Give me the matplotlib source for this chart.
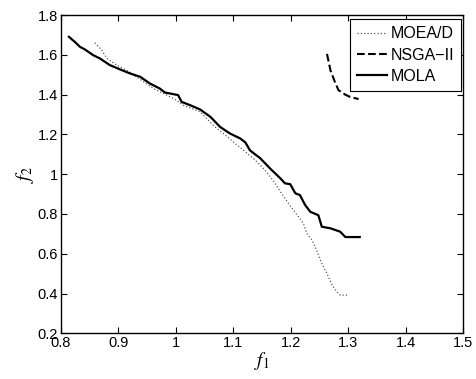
import matplotlib
matplotlib.use("Agg")
import matplotlib.pyplot as plt
from matplotlib.ticker import FuncFormatter

plt.rcParams['font.family'] = ['Liberation Sans', 'DejaVu Sans']
plt.rcParams['mathtext.fontset'] = 'stix'

# data
moead_f1 = [0.859, 0.871, 0.880, 0.897, 0.920, 0.961, 0.996, 1.013, 1.042, 1.068,
            1.086, 1.103, 1.121, 1.138, 1.155, 1.169, 1.182, 1.196, 1.211, 1.222,
            1.228, 1.237, 1.245, 1.254, 1.263, 1.272, 1.280, 1.286, 1.300]
moead_f2 = [1.661, 1.624, 1.582, 1.549, 1.513, 1.431, 1.381, 1.347, 1.314, 1.238,
            1.197, 1.155, 1.113, 1.071, 1.021, 0.970, 0.912, 0.853, 0.795, 0.753,
            0.702, 0.669, 0.618, 0.552, 0.501, 0.442, 0.409, 0.392, 0.392]

nsga_f1 = [1.263, 1.266, 1.269, 1.276, 1.283, 1.295, 1.303, 1.318]
nsga_f2 = [1.605, 1.565, 1.523, 1.470, 1.423, 1.400, 1.389, 1.378]

mola_f1 = [0.814, 0.824, 0.833, 0.842, 0.856, 0.868, 0.885, 0.903, 0.920, 0.938,
           0.955, 0.972, 0.981, 0.990, 1.004, 1.010, 1.025, 1.042, 1.060, 1.077,
           1.094, 1.112, 1.121, 1.129, 1.147, 1.164, 1.182, 1.190, 1.199, 1.208,
           1.216, 1.225, 1.234, 1.248, 1.254, 1.269, 1.286, 1.295, 1.320]
mola_f2 = [1.691, 1.666, 1.641, 1.627, 1.599, 1.582, 1.549, 1.527, 1.507, 1.490,
           1.456, 1.431, 1.411, 1.406, 1.398, 1.364, 1.347, 1.326, 1.289, 1.238,
           1.205, 1.180, 1.160, 1.120, 1.080, 1.029, 0.979, 0.954, 0.950, 0.904,
           0.895, 0.845, 0.811, 0.794, 0.736, 0.728, 0.711, 0.684, 0.684]

fig = plt.figure(figsize=(4.76, 3.79), dpi=100)
ax = fig.add_axes([0.128, 0.1206, 0.845, 0.8394])

ax.plot(moead_f1, moead_f2, linestyle=':', color='0.35', lw=0.9, label='MOEA/D')
ax.plot(nsga_f1, nsga_f2, linestyle='--', color='black', lw=1.5, label='NSGA\u2212II')
ax.plot(mola_f1, mola_f2, linestyle='-', color='black', lw=1.6, label='MOLA')

ax.set_xlim(0.8, 1.5)
ax.set_ylim(0.2, 1.8)
ax.set_xticks([0.8, 0.9, 1.0, 1.1, 1.2, 1.3, 1.4, 1.5])
ax.set_yticks([0.2, 0.4, 0.6, 0.8, 1.0, 1.2, 1.4, 1.6, 1.8])
fmt = FuncFormatter(lambda v, p: '%g' % round(v, 2))
ax.xaxis.set_major_formatter(fmt)
ax.yaxis.set_major_formatter(fmt)
ax.tick_params(direction='in', top=True, right=True, length=4, width=0.8,
               labelsize=10.5, pad=2)
for s in ax.spines.values():
    s.set_linewidth(1.0)

ax.set_xlabel('$f_1$', fontsize=14, labelpad=0)
ax.set_ylabel('$f_2$', fontsize=14, labelpad=1)

leg = ax.legend(loc='upper right', bbox_to_anchor=(0.995, 0.987), fontsize=11.5,
                handlelength=1.9, handletextpad=0.2, borderpad=0.45, labelspacing=0.38,
                borderaxespad=0.0, fancybox=False, framealpha=1)
leg.get_frame().set_edgecolor('black')
leg.get_frame().set_linewidth(0.8)

fig.savefig('out.png', dpi=100)
